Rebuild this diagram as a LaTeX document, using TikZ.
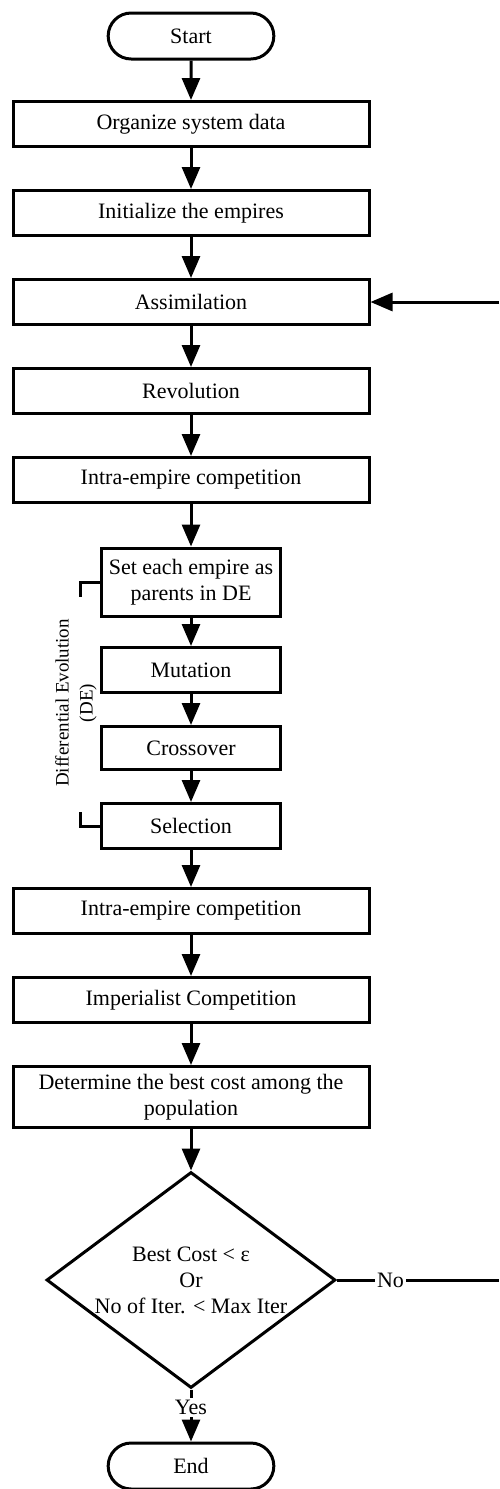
\documentclass[tikz,border=0pt]{standalone}
\usepackage{fontspec}
\setmainfont{Liberation Serif}
\usetikzlibrary{shapes.geometric,shapes.misc,arrows.meta}

\tikzset{
  procbox/.style={rectangle, draw, line width=1.5pt, minimum width=178pt, minimum height=22.5pt, inner sep=2pt, align=center},
  smallbox/.style={procbox, minimum width=89.5pt},
  termbox/.style={rounded rectangle, draw, line width=1.5pt, minimum width=89.5pt, minimum height=23pt},
  decbox/.style={diamond, draw, line width=1.5pt, aspect=1.338, minimum width=144.5pt, minimum height=108pt, inner sep=0pt, align=center},
  flow/.style={line width=1.5pt, -{Triangle[width=9pt,length=11pt]}},
  plain/.style={line width=1.5pt},
}

\begin{document}
\begin{tikzpicture}[x=0.5pt, y=-0.5pt, font=\fontsize{11}{13}\selectfont]
			\useasboundingbox (0,0) rectangle (499,1489);
			% Main column:
			\node[termbox] (start) at (191,36) {Start};
			\node[procbox] (org) at (191,124) {Organize system data};
			\node[procbox] (init) at (191,213) {Initialize the empires};
			\node[procbox] (assim) at (191,302) {Assimilation};
			\node[procbox] (revol) at (191,391) {Revolution};
			\node[procbox] (intraA) at (191,480) {Intra-empire competition};
			\node[smallbox, minimum height=34pt] (setpar) at (191,582) {Set each empire as\\parents in DE};
			\node[smallbox] (mutat) at (191,670) {Mutation};
			\node[smallbox, minimum height=21.5pt] (cross) at (191,748) {Crossover};
			\node[smallbox] (select) at (191,826) {Selection};
			\node[procbox] (intraB) at (191,911) {Intra-empire competition};
			\node[procbox] (imper) at (191,1000) {Imperialist Competition};
			\node[procbox, minimum height=30.5pt] (best) at (191,1097) {Determine the best cost among the\\population};
			\node[decbox] (check) at (191,1280) {Best Cost < ε\\Or\\No of Iter. < Max Iter};
			\node[termbox] (finish) at (191,1466) {End};
			% Arrows:
			\foreach \a/\b in {start/org, org/init, init/assim, assim/revol, revol/intraA, intraA/setpar, setpar/mutat, mutat/cross, cross/select, select/intraB, intraB/imper, imper/best, best/check}
				\draw[flow] (\a) -- (\b);
			\draw[flow] (check.south) -- node[pos=0.35, fill=white, inner sep=1pt] (yeslab) {Yes} (finish.north);
			% Loop back:
			\coordinate (retNo) at (499,1280);
			\coordinate (retIn) at (499,302);
			\draw[plain] (check.east) -- node[pos=0.33, fill=white, inner sep=1pt] (nolab) {No} (retNo);
			\draw[flow] (retIn) -- (assim.east);
			% DE bracket:
			\coordinate (deTop) at (80,597);
			\coordinate (deBot) at (80,812);
			\draw[plain] (setpar.west) -| (deTop);
			\draw[plain] (select.west) -| (deBot);
			\node[rotate=90, align=center, font=\fontsize{9.5}{12}\selectfont] (delab) at (76,703) {Differential Evolution\\(DE)};
		\end{tikzpicture}
\end{document}
